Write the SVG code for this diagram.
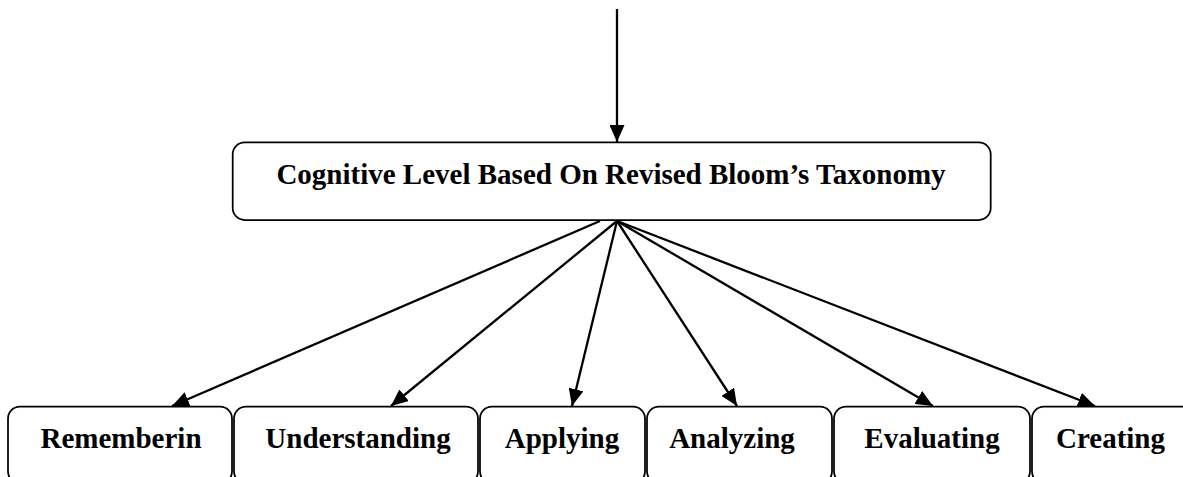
<svg xmlns="http://www.w3.org/2000/svg" width="1183" height="477" viewBox="0 0 1183 477">
<style>
.box{fill:#fff;stroke:#000;stroke-width:1.75}
.lbl{font-family:"Liberation Serif","Times New Roman",serif;font-weight:bold;font-size:29px;fill:#000;text-anchor:middle}
.con{stroke:#000;stroke-width:2.3;fill:none;marker-end:url(#ah)}
</style>
<defs>
<marker id="ah" markerUnits="userSpaceOnUse" markerWidth="18" markerHeight="15" refX="17" refY="7.5" orient="auto" viewBox="0 0 18 15">
<path d="M0,0 L17,7.5 L0,15 z" fill="#000"/>
</marker>
</defs>
<rect width="1183" height="477" fill="#fff"/>
<g id="connectors">
<line class="con" x1="617" y1="9" x2="617" y2="142"/>
<line class="con" x1="600" y1="221" x2="172" y2="406"/>
<line class="con" x1="617" y1="221" x2="391" y2="406"/>
<line class="con" x1="617" y1="221" x2="572" y2="406"/>
<line class="con" x1="617" y1="221" x2="737" y2="406"/>
<line class="con" x1="617" y1="221" x2="933" y2="406"/>
<line class="con" x1="617" y1="221" x2="1095" y2="406"/>
</g>
<g id="root">
<rect class="box" x="232.7" y="142.3" width="758" height="77.7" rx="12"/>
<text class="lbl" x="611" y="183.5">Cognitive Level Based On Revised Bloom’s Taxonomy</text>
</g>
<g id="remembering">
<rect class="box" x="8" y="406.5" width="224" height="77" rx="12"/>
<text class="lbl" x="121" y="447.7">Rememberin</text>
</g>
<g id="understanding">
<rect class="box" x="234" y="406.5" width="244" height="77" rx="12"/>
<text class="lbl" x="358" y="447.7">Understanding</text>
</g>
<g id="applying">
<rect class="box" x="480" y="406.5" width="165" height="77" rx="12"/>
<text class="lbl" x="562" y="447.7">Applying</text>
</g>
<g id="analyzing">
<rect class="box" x="647" y="406.5" width="185" height="77" rx="12"/>
<text class="lbl" x="732" y="447.7">Analyzing</text>
</g>
<g id="evaluating">
<rect class="box" x="834" y="406.5" width="196" height="77" rx="12"/>
<text class="lbl" x="932" y="447.7">Evaluating</text>
</g>
<g id="creating">
<rect class="box" x="1032" y="406.5" width="170" height="77" rx="12"/>
<text class="lbl" x="1110.5" y="447.7">Creating</text>
</g>
</svg>
